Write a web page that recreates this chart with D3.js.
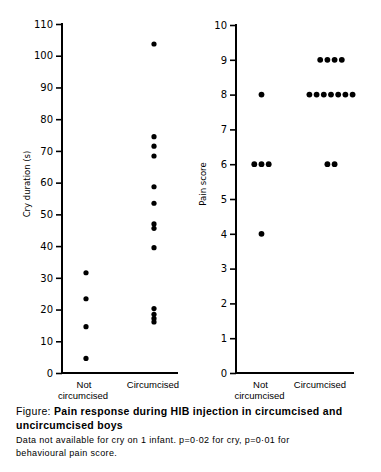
<!DOCTYPE html>
<html>
<head>
<meta charset="utf-8">
<script src="https://cdn.jsdelivr.net/npm/d3@7"></script>
<style>
  html, body { margin: 0; padding: 0; background: #fff; }
  svg { display: block; }
  text { fill: #000; }
</style>
</head>
<body>
<svg id="chart" width="381" height="472"></svg>
<script>
// ---- Data ----
const groups = ["Not circumcised", "Circumcised"];
const groupLabels = [["Not", "circumcised"], ["Circumcised"]];
const cryNot = [31.6, 23.4, 14.6, 4.6];
const cryCirc = [103.7, 74.5, 71.5, 68.4, 58.7, 53.5, 47.0, 45.6, 39.5, 20.3, 18.5, 17.2, 16.1];
const painNot = [8, 6, 6, 6, 4];
const painCirc = [9, 9, 9, 9, 8, 8, 8, 8, 8, 8, 8, 6, 6];
const cryTicks = [0, 10, 20, 30, 40, 50, 60, 70, 80, 90, 100, 110];
const painTicks = [0, 1, 2, 3, 4, 5, 6, 7, 8, 9, 10];
const cryTitle = "Cry duration (s)";
const painTitle = "Pain score";
const captionLead = "Figure: ";
const captionBold1 = "Pain response during HIB injection in circumcised and";
const captionBold2 = "uncircumcised boys";
const note1 = "Data not available for cry on 1 infant. p=0·02 for cry, p=0·01 for";
const note2 = "behavioural pain score.";

const svg = d3.select("#chart");
const FONT = "'DejaVu Sans', sans-serif";
const LFONT = "'Liberation Sans', Arial, sans-serif";

function panel(opts) {
  const g = svg.append("g");
  const y = d3.scaleLinear().domain(opts.domain).range([opts.bottom, opts.top]);
  const x = d3.scalePoint().domain(groups).range([opts.x0 + opts.p0, opts.x0 + opts.p1]);

  // y axis
  const ax = g.append("g").attr("transform", `translate(${opts.x0},0)`)
    .call(d3.axisLeft(y).tickValues(opts.ticks).tickSize(6).tickPadding(3).tickFormat(d3.format("d")));
  ax.select(".domain").remove();
  ax.selectAll(".tick line").attr("stroke", "#000").attr("stroke-width", 1.6);
  ax.selectAll(".tick text").attr("font-family", FONT).attr("font-size", opts.tickSize).attr("fill", "#000");

  // axis lines
  g.append("line").attr("x1", opts.x0).attr("x2", opts.x0)
    .attr("y1", y(opts.domain[1]) - 1).attr("y2", opts.bottom + 1)
    .attr("stroke", "#000").attr("stroke-width", 2);
  g.append("line").attr("x1", opts.x0).attr("x2", opts.x1)
    .attr("y1", opts.bottom).attr("y2", opts.bottom)
    .attr("stroke", "#000").attr("stroke-width", 2);

  // axis title
  g.append("text")
    .attr("transform", `translate(${opts.titleX},${opts.titleY}) rotate(-90)`)
    .attr("text-anchor", "middle")
    .attr("font-family", FONT).attr("font-size", 8.5)
    .text(opts.title);

  // category labels
  groups.forEach((grp, i) => {
    const t = g.append("text")
      .attr("x", x(grp) + opts.labelDx[i])
      .attr("y", opts.bottom + 15)
      .attr("text-anchor", "middle")
      .attr("font-family", LFONT).attr("font-size", 9.5);
    groupLabels[i].forEach((line, j) => {
      t.append("tspan").attr("x", x(grp) + opts.labelDx[i] + (j === 1 ? -1 : 0))
        .attr("dy", j === 0 ? 0 : 11).text(line);
    });
  });

  // dots
  opts.series.forEach((vals, i) => {
    const grp = groups[i];
    let pts;
    if (opts.spread) {
      const counts = d3.rollup(vals, v => v.length, d => d);
      pts = [];
      counts.forEach((n, v) => {
        for (let k = 0; k < n; k++) pts.push({ v, off: (k - (n - 1) / 2) * opts.spread });
      });
    } else {
      pts = vals.map(v => ({ v, off: 0 }));
    }
    g.selectAll(null).data(pts).enter().append("circle")
      .attr("cx", d => x(grp) + d.off)
      .attr("cy", d => y(d.v))
      .attr("r", opts.r)
      .attr("fill", "#000");
  });
}

panel({
  domain: [0, 110], ticks: cryTicks, top: 24, bottom: 373,
  x0: 62, x1: 178, p0: 24, p1: 92, tickSize: 10,
  title: cryTitle, titleX: 30, titleY: 184,
  labelDx: [-2, -1],
  series: [cryNot, cryCirc], r: 2.6, spread: 0
});

panel({
  domain: [0, 10], ticks: painTicks, top: 25, bottom: 373,
  x0: 236, x1: 354, p0: 25.5, p1: 95, tickSize: 10,
  title: painTitle, titleX: 206, titleY: 184,
  labelDx: [-1, -11],
  series: [painNot, painCirc], r: 2.9, spread: 7.2
});

// caption
const cap = svg.append("text").attr("x", 16).attr("y", 415)
  .attr("font-family", LFONT).attr("font-size", 10.5).attr("letter-spacing", 0.3);
cap.append("tspan").text(captionLead);
cap.append("tspan").attr("font-weight", "bold").text(captionBold1);
svg.append("text").attr("x", 16).attr("y", 429)
  .attr("font-family", LFONT).attr("font-size", 10.5).attr("font-weight", "bold")
  .attr("letter-spacing", 0.3).text(captionBold2);
svg.append("text").attr("x", 16).attr("y", 443)
  .attr("font-family", LFONT).attr("font-size", 9).attr("letter-spacing", 0.35).text(note1);
svg.append("text").attr("x", 16).attr("y", 456)
  .attr("font-family", LFONT).attr("font-size", 9).attr("letter-spacing", 0.35).text(note2);
</script>
</body>
</html>
